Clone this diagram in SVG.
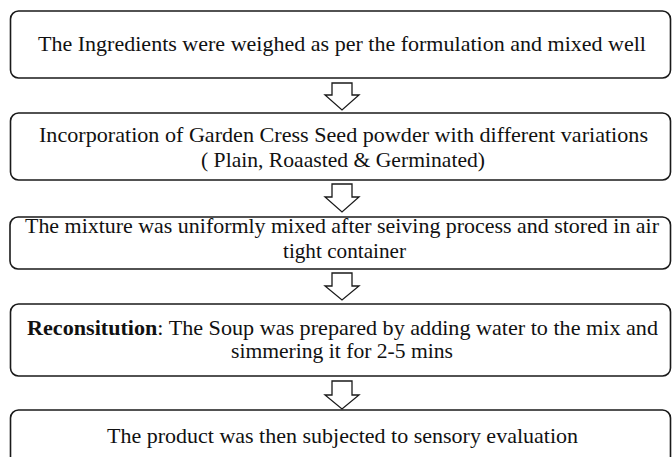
<svg xmlns="http://www.w3.org/2000/svg" width="672" height="457" viewBox="0 0 672 457">
<style>
.box{fill:#fff;stroke:#1a1a1a;stroke-width:1.6}
.arr{fill:#fff;stroke:#1a1a1a;stroke-width:1.3;stroke-linejoin:miter}
.t{font-family:'Liberation Serif','Times New Roman',Tinos,serif;font-size:21px;fill:#111}
</style>
<rect width="672" height="457" fill="#fff"/>
<g id="connectors">
<path class="arr" d="M332,83 H352 V95 H359 L342,110 L325,95 H332 Z"/>
<path class="arr" d="M332,184 H352 V197 H359 L342,212 L325,197 H332 Z"/>
<path class="arr" d="M332,273 H352 V286 H359 L342,300 L325,286 H332 Z"/>
<path class="arr" d="M332,381 H352 V395 H359 L342,409 L325,395 H332 Z"/>
</g>
<g id="n1">
<rect class="box" x="10.5" y="11" width="660" height="67" rx="8"/>
<text class="t" x="38" y="51" textLength="608" lengthAdjust="spacingAndGlyphs">The Ingredients were weighed as per the formulation and mixed well</text>
</g>
<g id="n2">
<rect class="box" x="10.5" y="113" width="660" height="67" rx="8"/>
<text class="t" x="39" y="142" textLength="609" lengthAdjust="spacingAndGlyphs">Incorporation of Garden Cress Seed powder with different variations</text>
<text class="t" x="201" y="167" textLength="284" lengthAdjust="spacingAndGlyphs">( Plain, Roaasted &amp; Germinated)</text>
</g>
<g id="n3">
<rect class="box" x="10" y="217" width="660.5" height="52" rx="8"/>
<text class="t" x="25" y="233" textLength="634" lengthAdjust="spacingAndGlyphs">The mixture was uniformly mixed after seiving process and stored in air</text>
<text class="t" x="283" y="258" textLength="123" lengthAdjust="spacingAndGlyphs">tight container</text>
</g>
<g id="n4">
<rect class="box" x="10.5" y="304" width="660" height="72" rx="8"/>
<text class="t" x="27" y="335" textLength="631" lengthAdjust="spacingAndGlyphs"><tspan font-weight="bold">Reconsitution</tspan>: The Soup was prepared by adding water to the mix and</text>
<text class="t" x="231" y="358" textLength="222" lengthAdjust="spacingAndGlyphs">simmering it for 2-5 mins</text>
</g>
<g id="n5">
<rect class="box" x="10.5" y="410" width="660" height="70" rx="8"/>
<text class="t" x="107" y="443" textLength="471" lengthAdjust="spacingAndGlyphs">The product was then subjected to sensory evaluation</text>
</g>
</svg>
